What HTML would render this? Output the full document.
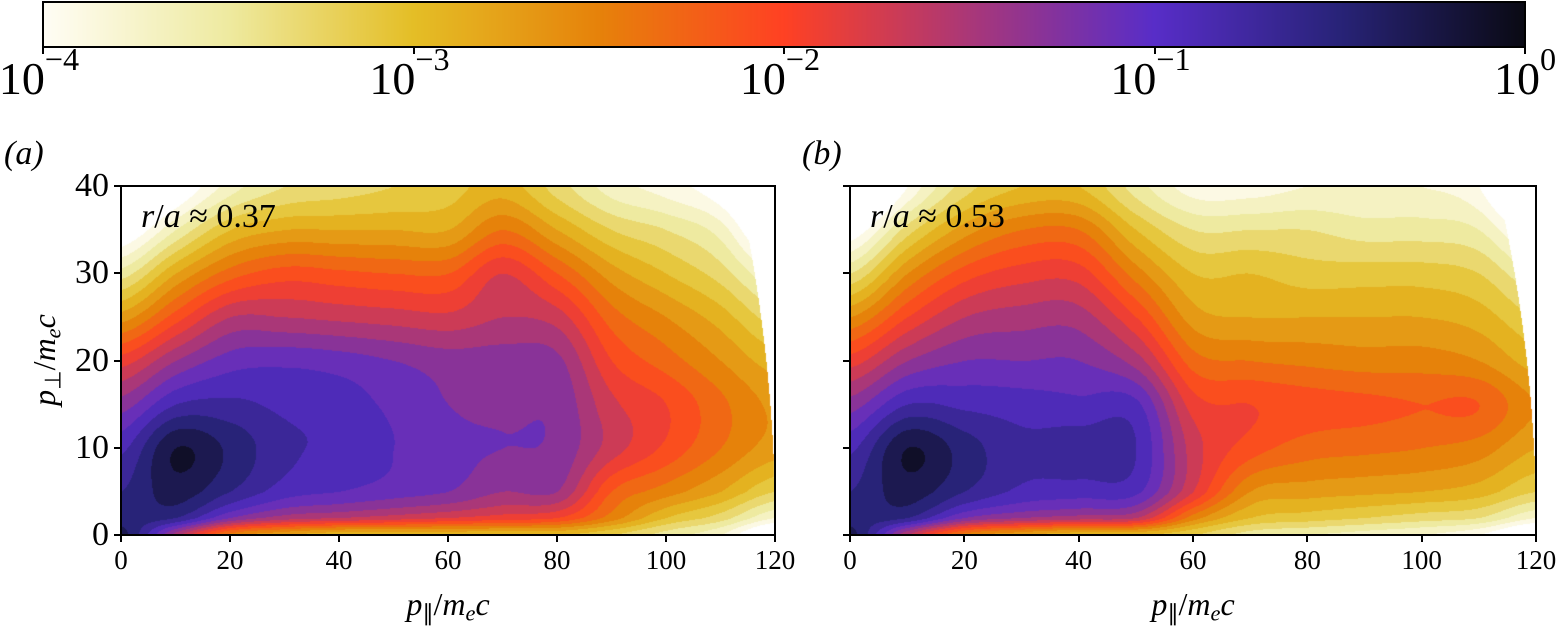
<!DOCTYPE html>
<html><head><meta charset="utf-8"><style>
body{margin:0;background:#fff;width:1563px;height:628px;overflow:hidden;position:relative;font-family:"Liberation Serif",serif;}
.t{position:absolute;color:#000;white-space:nowrap;line-height:1;font-family:"Liberation Serif",serif;}
canvas{position:absolute;}
.ax{position:absolute;border:2px solid #000;box-sizing:border-box;}
sup{font-size:0.7em;vertical-align:0.75em;line-height:0;}
sub{font-size:0.7em;vertical-align:-0.25em;line-height:0;}
</style></head><body>
<canvas id="cb" style="left:43px;top:2px" width="1482" height="45"></canvas>
<div class="ax" style="left:42px;top:1px;width:1484px;height:47px"></div>
<div id="cbt"></div>
<div class="t" style="left:4px;top:137px;font-size:34px"><i>(a)</i></div>
<div class="t" style="left:802px;top:137px;font-size:34px"><i>(b)</i></div>
<canvas id="ca"></canvas>
<canvas id="cbp"></canvas>
<div id="axes"></div>
<script>
// ---- data ----
const xCols=[0,10,20,30,40,50,60,70,80,90,100,110,120];
const yRows=[0,2,5,10,15,20,25,30,35,40];
const gridA=[
[-0.3,-1.5,-2.5,-2.8,-3,-3,-3,-3,-3,-3.2,-3.5,-3.8,-4.5],
[-0.5,-0.6,-1.2,-1.5,-1.6,-1.7,-1.8,-1.9,-2.0,-2.5,-3.0,-3.3,-3.8],
[-0.6,-0.3,-0.6,-0.9,-1.0,-1.1,-1.2,-1.4,-1.4,-2.2,-2.5,-2.8,-3.2],
[-0.85,-0.2,-0.45,-0.75,-0.85,-1.0,-1.15,-1.2,-1.25,-1.7,-2.05,-2.4,-2.7],
[-1.3,-0.8,-0.75,-0.85,-0.9,-1.05,-1.2,-1.25,-1.25,-1.75,-2.0,-2.35,-2.65],
[-1.9,-1.4,-1.1,-1.05,-1.1,-1.2,-1.3,-1.3,-1.35,-2.0,-2.3,-2.6,-2.9],
[-2.7,-2.1,-1.6,-1.6,-1.65,-1.7,-1.75,-1.6,-1.7,-2.3,-2.6,-2.9,-3.3],
[-3.5,-2.8,-2.3,-2.1,-2.15,-2.2,-2.2,-1.8,-2.2,-2.7,-3.0,-3.3,-3.8],
[-4.3,-3.6,-3.0,-2.8,-2.8,-2.8,-2.8,-2.4,-2.8,-3.2,-3.4,-3.7,-4.5],
[-5,-4.3,-3.7,-3.4,-3.3,-3.2,-3.1,-2.9,-3.3,-3.7,-3.9,-4.2,-5]];
const gridB=[
[-0.3,-1.6,-2.5,-2.8,-3,-3,-3.2,-3.5,-3.6,-3.7,-3.8,-4,-4.5],
[-0.5,-0.6,-1.2,-1.4,-1.5,-1.6,-2.5,-3.0,-3.1,-3.2,-3.3,-3.4,-3.8],
[-0.6,-0.3,-0.6,-0.85,-0.9,-0.95,-1.8,-2.6,-2.7,-2.75,-2.8,-2.9,-3.2],
[-0.85,-0.2,-0.5,-0.75,-0.7,-0.8,-1.7,-2.1,-2.3,-2.35,-2.4,-2.5,-2.8],
[-1.3,-0.8,-0.85,-0.9,-0.95,-0.95,-1.9,-2.0,-2.1,-2.15,-2.2,-2.2,-2.6],
[-1.9,-1.4,-1.2,-1.2,-1.2,-1.5,-2.3,-2.4,-2.45,-2.5,-2.5,-2.6,-2.9],
[-2.6,-2.0,-1.6,-1.5,-1.5,-2.0,-2.7,-2.8,-2.8,-2.8,-2.8,-2.9,-3.2],
[-3.4,-2.6,-2.1,-1.9,-1.9,-2.5,-3.0,-3.0,-3.1,-3.1,-3.1,-3.2,-3.6],
[-4.2,-3.3,-2.7,-2.4,-2.4,-3.0,-3.4,-3.4,-3.4,-3.5,-3.5,-3.6,-4.2],
[-5,-4.0,-3.3,-3.0,-3.0,-3.5,-3.9,-3.9,-3.8,-3.8,-3.8,-4,-5]];
const xTicks=[0,20,40,60,80,100,120];
const yTicks=[0,10,20,30,40];
const cbTicks=[-4,-3,-2,-1,0];
// colormap
const cmS=[[-4,[255,253,245]],[-3.5,[238,234,160]],[-3,[228,190,38]],[-2.5,[230,130,10]],[-2,[255,65,35]],[-1.5,[170,55,120]],[-1,[88,45,200]],[-0.5,[40,35,120]],[0,[10,10,20]]];
function cmap(v){
 if(v<=cmS[0][0])return cmS[0][1];
 for(let i=1;i<cmS.length;i++){if(v<=cmS[i][0]){const a=cmS[i-1],b=cmS[i],t=(v-a[0])/(b[0]-a[0]);return a[1].map((c,k)=>c+(b[1][k]-c)*t);}}
 return cmS[cmS.length-1][1];
}
function seg(arr,v){let i=0;while(i<arr.length-2&&v>arr[i+1])i++;return [i,(v-arr[i])/(arr[i+1]-arr[i])];}
function cr(p0,p1,p2,p3,t){return 0.5*(2*p1+(-p0+p2)*t+(2*p0-5*p1+4*p2-p3)*t*t+(-p0+3*p1-3*p2+p3)*t*t*t);}
function row(r,i,t){const n=r.length,g=k=>r[Math.max(0,Math.min(n-1,k))];return cr(g(i-1),g(i),g(i+1),g(i+2),t);}
function sample(g,x,y){const [i,tx]=seg(xCols,x),[j,ty]=seg(yRows,y);
 const n=g.length,v=k=>row(g[Math.max(0,Math.min(n-1,k))],i,tx);
 return cr(v(j-1),v(j),v(j+1),v(j+2),ty);}
// colorbar
(function(){const c=document.getElementById('cb'),x=c.getContext('2d');
 for(let i=0;i<c.width;i++){const v=-4+4*i/(c.width-1),col=cmap(v);x.fillStyle=`rgb(${col.map(Math.round)})`;x.fillRect(i,0,1,c.height);}
 const ct=document.getElementById('cbt');
 cbTicks.forEach(t=>{const px=43+(t+4)/4*1482;
  const tk=document.createElement('div');
  
  
  tk.style.cssText=`position:absolute;left:${px-1}px;top:48px;width:2px;height:6px;background:#000`;ct.appendChild(tk);
  const l=document.createElement('div');
  
  
  l.className='t';l.style.cssText=`left:${px}px;top:56px;font-size:46px;transform:translateX(-${t==0?50:55}%)`;
  l.innerHTML=t==0?'10<sup>0</sup>':'10<sup>&minus;'+(-t)+'</sup>';ct.appendChild(l);});
})();
function panel(id,g,L,T,W,H,ann,name){
 const c=document.getElementById(id);c.width=W;c.height=H;c.style.left=L+'px';c.style.top=T+'px';
 const x=c.getContext('2d'),im=x.createImageData(W,H);
 for(let py=0;py<H;py++)for(let px=0;px<W;px++){
  const xv=px/W*120,yv=(H-py)/H*40;let r=255,gg=255,b=255;
  if(Math.hypot(xv,yv)<=120){let v=sample(g,xv,yv);if(v>=-4){v=Math.min(-0.1,Math.floor(v/0.2)*0.2+0.1);[r,gg,b]=cmap(v);}}
  const k=(py*W+px)*4;im.data[k]=r;im.data[k+1]=gg;im.data[k+2]=b;im.data[k+3]=255;}
 x.putImageData(im,0,0);
 const A=document.getElementById('axes');
 const fr=document.createElement('div');
 
 
 fr.className='ax';fr.style.cssText=`left:${L-1}px;top:${T-1}px;width:${W+2}px;height:${H+2}px`;A.appendChild(fr);
 xTicks.forEach(t=>{const px=L+t/120*W;
  const tk=document.createElement('div');
  
  
  tk.style.cssText=`position:absolute;left:${px-1}px;top:${T+H}px;width:2px;height:7px;background:#000`;A.appendChild(tk);
  const l=document.createElement('div');
  
  
  l.className='t';l.style.cssText=`left:${px}px;top:${T+H+12}px;font-size:27px;transform:translateX(-50%)`;l.textContent=t;A.appendChild(l);});
 yTicks.forEach(t=>{const py=T+H-t/40*H;
  const tk=document.createElement('div');
  
  
  tk.style.cssText=`position:absolute;left:${L-7}px;top:${py-1}px;width:7px;height:2px;background:#000`;A.appendChild(tk);
  if(name=='panel-a'){const l=document.createElement('div');
  
  
  l.className='t';l.style.cssText=`right:${1563-L+12}px;top:${py-17}px;font-size:34px`;l.textContent=t;A.appendChild(l);}});
 const xl=document.createElement('div');
 
 
 xl.className='t';xl.style.cssText=`left:${L+W/2}px;top:588px;font-size:32px;transform:translateX(-50%)`;
 xl.innerHTML='<i>p</i><sub>&#8741;</sub>/<i>m<sub>e</sub>c</i>';A.appendChild(xl);
 const an=document.createElement('div');
 
 
 an.className='t';an.style.cssText=`left:${L+20}px;top:${T+14}px;font-size:34px`;an.innerHTML=ann;A.appendChild(an);
}
panel('ca',gridA,121,186,654,349,'<i>r</i>/<i>a</i> &asymp; 0.37','panel-a');
panel('cbp',gridB,850,186,686,349,'<i>r</i>/<i>a</i> &asymp; 0.53','panel-b');
</script>
<div class="t" style="left:44px;top:360px;font-size:32px;transform:translate(-50%,-50%) rotate(-90deg)"><i>p</i><sub>&perp;</sub>/<i>m<sub>e</sub>c</i></div>
</body></html>
